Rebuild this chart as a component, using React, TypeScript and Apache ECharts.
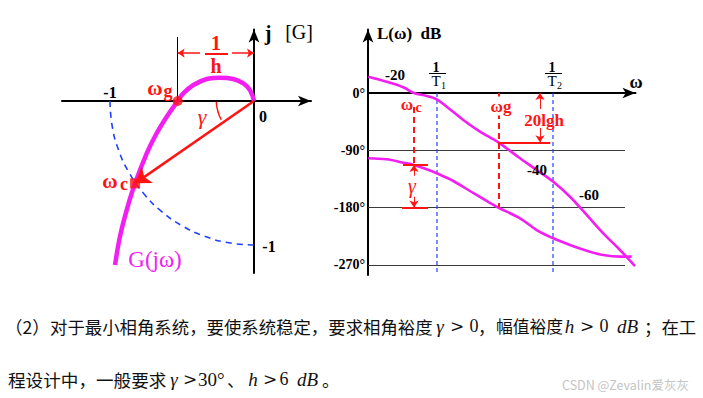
import React, { useEffect, useRef } from 'react';
import * as echarts from 'echarts';

const MAG = '#f21ef2';
const RED = '#ff1414';
const BLUE = '#2040ff';
const SERIF = '"Liberation Serif", "Times New Roman", serif';
const CJK = '"Noto Sans CJK SC", sans-serif';

// ---------- Nyquist plot (real, imaginary) ----------
const nyqRe = [0, -0.028, -0.074, -0.144, -0.236, -0.328, -0.421, -0.491, -0.53, -0.606, -0.676, -0.745, -0.826, -0.884, -0.931, -0.965];
const nyqIm = [0, 0.076, 0.123, 0.153, 0.162, 0.153, 0.111, 0.053, 0, -0.109, -0.224, -0.363, -0.572, -0.757, -0.942, -1.139];
const unitCircleDeg = [180, 190, 200, 210, 220, 230, 240, 250, 260, 270];
const omegaG = [-0.53, 0];
const omegaC = [-0.826, -0.572];
const gammaArcRe = [-0.262, -0.259, -0.251, -0.24, -0.227];
const gammaArcIm = [-0.005, -0.036, -0.072, -0.104, -0.13];
const invHLevel = 0.333;
const invHTop = 0.444;
const invHLeftGap = -0.375;
const invHRightGap = -0.153;

// ---------- Bode plot (log-frequency units, degrees) ----------
const magLogW = [0.03, 1.87, 3.53, 4.6, 5.87, 6.87, 7.87, 9.53, 11.2, 13.03, 15.2, 16.87, 18.53, 20.2, 21.87, 23.53, 25.2, 26.7];
const magVal = [25.6, 17.8, 9.0, 0, -4.7, -9.9, -21.5, -42.4, -60.8, -77.5, -102.6, -121, -139.4, -163, -191.7, -220.5, -246.7, -272];
const phaseLogW = [0.03, 1.87, 3.53, 4.6, 5.87, 6.87, 8.53, 10.2, 11.87, 13.03, 15.2, 16.87, 18.53, 20.2, 21.87, 23.53, 25.2, 26.37];
const phaseVal = [-102.6, -104.2, -109.5, -113, -119.9, -126.2, -138.3, -154, -169.7, -180, -196.9, -215.3, -228.3, -238.8, -247.8, -254.6, -257.2, -257.2];
const T1 = 6.9;
const T2 = 18.5;
const wcBode = 4.6;
const wgBode = 13.03;
const phaseAtWc = -113;
const magAtWg = -77.5;
const phaseTicks = [0, -90, -180, -270];
const gridPhases = [-90, -180, -270];
const gridEnd = 25.7;
const bodeBottom = -286;

const zip = (a: number[], b: number[]) => a.map((v, i) => [v, b[i]]);

const axisStyle = {
  type: 'value',
  axisLine: { onZero: true, symbol: ['none', 'arrow'], symbolSize: [8, 13], lineStyle: { color: '#000', width: 2 } },
  axisTick: { show: false },
  axisLabel: { show: false },
  splitLine: { show: false },
};

const seg = (xi: number, color: string, width: number, data: number[][][], opts: any = {}) => ({
  type: 'lines',
  coordinateSystem: 'cartesian2d',
  xAxisIndex: xi,
  yAxisIndex: xi,
  silent: true,
  polyline: !!opts.polyline,
  symbol: opts.arrow ? ['none', 'arrow'] : ['none', 'none'],
  symbolSize: opts.arrowSize ?? 8,
  lineStyle: { color, width, opacity: 1, type: opts.dash ?? 'solid', curveness: 0 },
  data: data.map((c) => ({ coords: c })),
  z: opts.z ?? 4,
});

const txt = (x: number, y: number, text: string, size: number, color: string, o: any = {}) => ({
  type: 'text',
  x,
  y,
  z: o.z ?? 100,
  style: {
    text,
    fill: color,
    fontSize: size,
    fontFamily: o.family ?? SERIF,
    fontWeight: o.weight ?? 'bold',
    fontStyle: o.style ?? 'normal',
    align: o.align ?? 'center',
    textAlign: o.align ?? 'center',
    verticalAlign: 'middle',
    textVerticalAlign: 'middle',
    backgroundColor: o.bg,
    padding: o.pad,
  },
});

const hline = (x1: number, y1: number, x2: number, y2: number, color: string, w: number) => ({
  type: 'line',
  z: 100,
  shape: { x1, y1, x2, y2 },
  style: { stroke: color, lineWidth: w },
});

const unitCircle = unitCircleDeg.map((d) => [Math.cos((d * Math.PI) / 180), Math.sin((d * Math.PI) / 180)]);

const option: any = {
  animation: false,
  backgroundColor: '#fff',
  grid: [
    { left: 62, top: 29.5, width: 249, height: 243.5 },
    { left: 368, top: 29.5, width: 267.5, height: 245.5 },
  ],
  xAxis: [
    { ...axisStyle, gridIndex: 0, min: -1.3333, max: 0.3958 },
    { ...axisStyle, gridIndex: 1, min: 0, max: 26.75 },
  ],
  yAxis: [
    { ...axisStyle, gridIndex: 0, min: -1.1944, max: 0.4965 },
    {
      ...axisStyle,
      gridIndex: 1,
      min: bodeBottom,
      max: 99.8,
      axisLabel: {
        show: true,
        customValues: phaseTicks,
        formatter: (v: number) => `${v}°`,
        margin: 3,
        color: '#000',
        fontFamily: SERIF,
        fontSize: 14,
        fontWeight: 'bold',
      },
    },
  ],
  series: [
    // Nyquist
    {
      type: 'line', xAxisIndex: 0, yAxisIndex: 0, data: unitCircle, smooth: true, showSymbol: false, silent: true,
      lineStyle: { color: BLUE, width: 1.6, type: [6, 5] }, z: 2,
    },
    {
      type: 'line', xAxisIndex: 0, yAxisIndex: 0, data: zip(nyqRe, nyqIm), smooth: 0.4, showSymbol: false, silent: true,
      lineStyle: { color: MAG, width: 4.5 }, z: 3,
    },
    seg(0, RED, 2.5, [[[0, 0], omegaC]], { arrow: true, arrowSize: 15 }),
    seg(0, RED, 1.5, [zip(gammaArcRe, gammaArcIm)], { arrow: true, arrowSize: 8, polyline: true }),
    seg(0, '#000', 1, [[omegaG, [omegaG[0], invHTop]]]),
    seg(0, RED, 1.5, [
      [[invHLeftGap, invHLevel], [omegaG[0], invHLevel]],
      [[invHRightGap, invHLevel], [0, invHLevel]],
    ], { arrow: true, arrowSize: 7 }),
    {
      type: 'scatter', xAxisIndex: 0, yAxisIndex: 0, silent: true, z: 6,
      data: [
        { value: omegaG, symbol: 'circle', symbolSize: 10 },
        { value: omegaC, symbol: 'rect', symbolSize: 10 },
      ],
      itemStyle: { color: RED },
    },
    // Bode
    seg(1, '#3a3a3a', 1.2, gridPhases.map((p) => [[0, p], [gridEnd, p]]), { z: 1 }),
    {
      type: 'line', xAxisIndex: 1, yAxisIndex: 1, data: [[T1, 0], [T1, bodeBottom]], showSymbol: false, silent: true,
      lineStyle: { color: BLUE, width: 1.2, type: [4, 3] }, z: 1,
    },
    {
      type: 'line', xAxisIndex: 1, yAxisIndex: 1, data: [[T2, 0], [T2, bodeBottom]], showSymbol: false, silent: true,
      lineStyle: { color: BLUE, width: 1.2, type: [4, 3] }, z: 1,
    },
    {
      type: 'line', xAxisIndex: 1, yAxisIndex: 1, data: zip(magLogW, magVal), smooth: 0.35, showSymbol: false, silent: true,
      lineStyle: { color: MAG, width: 2.6 }, z: 3,
    },
    {
      type: 'line', xAxisIndex: 1, yAxisIndex: 1, data: zip(phaseLogW, phaseVal), smooth: 0.35, showSymbol: false, silent: true,
      lineStyle: { color: MAG, width: 2.6 }, z: 3,
    },
    seg(1, RED, 2, [
      [[wcBode, -22], [wcBode, phaseAtWc]],
      [[wgBode, 0], [wgBode, -180]],
    ], { dash: [6, 4] }),
    seg(1, RED, 2, [
      [[wcBode - 1.1, phaseAtWc], [wcBode + 1.4, phaseAtWc]],
      [[wcBode - 1.2, -180], [wcBode + 1.4, -180]],
      [[wgBode, magAtWg], [wgBode + 5.2, magAtWg]],
    ]),
    seg(1, RED, 1, [
      [[wcBode, -130], [wcBode, phaseAtWc]],
      [[wcBode, -163], [wcBode, -180]],
      [[17.2, -25], [17.2, 0]],
      [[17.2, -55], [17.2, magAtWg]],
    ], { arrow: true, arrowSize: 7 }),
  ],
  graphic: [
    // Nyquist labels
    txt(268, 33, 'j', 20, '#000'),
    txt(299, 32, '[G]', 20, '#000', { weight: 'normal' }),
    txt(110, 92, '-1', 16, '#000'),
    txt(263, 116, '0', 16, '#000'),
    txt(269, 246, '-1', 16, '#000'),
    txt(155, 88, 'ω', 21, RED),
    txt(168, 91, 'g', 18, RED),
    txt(110, 181, 'ω', 21, RED),
    txt(124, 184, 'c', 18, RED),
    txt(202, 116, 'γ', 22, RED, { weight: 'normal', style: 'italic' }),
    txt(216, 43, '1', 20, RED),
    hline(205, 54, 228, 54, RED, 2),
    txt(216, 65.5, 'h', 20, RED),
    txt(155, 259, 'G(jω)', 23, MAG, { weight: 'normal' }),
    // Bode labels
    txt(377, 33, 'L(ω)  dB', 17, '#000', { align: 'left' }),
    txt(636, 82, 'ω', 18, '#000'),
    txt(436, 67, '1', 14, '#000'),
    hline(429, 73.5, 446, 73.5, '#000', 1),
    txt(436, 81, 'T', 15, '#000', { weight: 'normal' }),
    txt(443.5, 85, '1', 10, '#000', { weight: 'normal' }),
    txt(552, 67, '1', 14, '#000'),
    hline(545, 73.5, 562, 73.5, '#000', 1),
    txt(552, 81, 'T', 15, '#000', { weight: 'normal' }),
    txt(559.5, 85, '2', 10, '#000', { weight: 'normal' }),
    txt(395, 75, '-20', 15, '#000'),
    txt(537, 170, '-40', 15, '#000'),
    txt(589, 195, '-60', 15, '#000'),
    txt(407, 104, 'ω', 17, RED),
    txt(418.5, 107, 'c', 14, RED),
    txt(501, 106, 'ωg', 17, RED, { bg: '#fff', pad: [1, 1, 1, 1] }),
    txt(412, 186, 'γ', 20, RED, { weight: 'normal', style: 'italic' }),
    txt(544, 120, '20lgh', 17, RED),
    // Text line 1
    txt(5, 326, '（2）', 17.5, '#111', { family: CJK, weight: 'normal', align: 'left' }),
    txt(50, 326, '对于最小相角系统，要使系统稳定，要求相角裕度', 17.4, '#111', { family: CJK, weight: 'normal', align: 'left' }),
    txt(440, 326, 'γ', 19, '#111', { weight: 'normal', style: 'italic' }),
    txt(457, 326, '>', 17, '#111', { weight: 'normal', family: '"DejaVu Serif", serif' }),
    txt(474, 326, '0', 18, '#111', { weight: 'normal' }),
    txt(478, 326, '，', 17, '#111', { family: CJK, weight: 'normal', align: 'left' }),
    txt(496, 326, '幅值裕度', 16.8, '#111', { family: CJK, weight: 'normal', align: 'left' }),
    txt(569.5, 326, 'h', 19, '#111', { weight: 'normal', style: 'italic' }),
    txt(587, 326, '>', 17, '#111', { weight: 'normal', family: '"DejaVu Serif", serif' }),
    txt(604, 326, '0', 18, '#111', { weight: 'normal' }),
    txt(617, 326, 'dB', 19, '#111', { weight: 'normal', style: 'italic', align: 'left' }),
    txt(644, 326, '；在工', 17.4, '#111', { family: CJK, weight: 'normal', align: 'left' }),
    // Text line 2
    txt(8, 379, '程设计中，一般要求', 17.6, '#111', { family: CJK, weight: 'normal', align: 'left' }),
    txt(174, 379, 'γ', 19, '#111', { weight: 'normal', style: 'italic' }),
    txt(190, 379, '>', 17, '#111', { weight: 'normal', family: '"DejaVu Serif", serif' }),
    txt(198, 379, '30°', 19, '#111', { weight: 'normal', align: 'left' }),
    txt(227, 379, '、', 17.5, '#111', { family: CJK, weight: 'normal', align: 'left' }),
    txt(253, 379, 'h', 19, '#111', { weight: 'normal', style: 'italic' }),
    txt(270, 379, '>', 17, '#111', { weight: 'normal', family: '"DejaVu Serif", serif' }),
    txt(284, 379, '6', 18, '#111', { weight: 'normal' }),
    txt(297, 379, 'dB', 19, '#111', { weight: 'normal', style: 'italic', align: 'left' }),
    txt(322, 379, '。', 17.5, '#111', { family: CJK, weight: 'normal', align: 'left' }),
    // watermark
    txt(562, 384, 'CSDN @Zevalin爱灰灰', 12.5, '#c4c4c4', { family: CJK, weight: 'normal', align: 'left' }),
  ],
};

export default function App() {
  const ref = useRef<HTMLDivElement>(null);
  useEffect(() => {
    const chart = echarts.init(ref.current!, null, { renderer: 'svg' });
    chart.setOption(option);
    return () => chart.dispose();
  }, []);
  return (
    <div
      ref={ref}
      style={{ position: 'fixed', left: 0, top: 0, width: 703, height: 398, background: '#fff' }}
    />
  );
}
